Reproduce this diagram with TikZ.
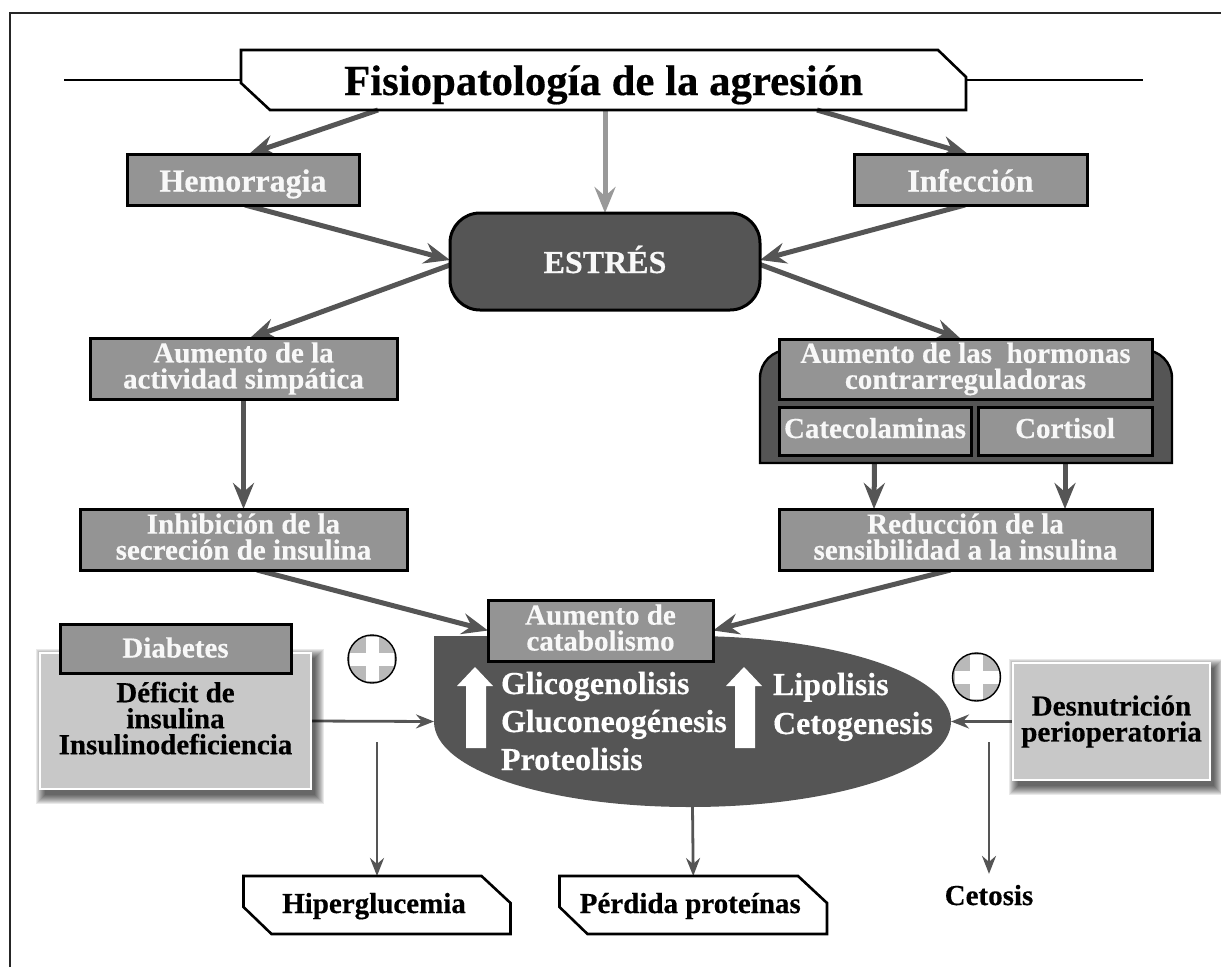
\documentclass[tikz,border=0pt]{standalone}
\usepackage{fontspec}
\setmainfont{Liberation Serif}[BoldFeatures={FakeBold=0.4}]
\usetikzlibrary{arrows.meta,backgrounds,calc}
\definecolor{boxgray}{HTML}{949494}
\definecolor{darkgray}{HTML}{555555}
\definecolor{lightgray}{HTML}{C8C8C8}
\definecolor{softwhite}{HTML}{F8F8F8}
\newcommand{\dd}{\rule[-6pt]{0pt}{6pt}}
\newcommand{\softshade}[4]{%
  \foreach \r in {9,8,7,6,5,4,3,2,1,0}{%
    \fill[black,opacity=.085] (#1+5-\r,#2+5-\r) rectangle (#3+4+\r,#4+6+\r);}}
\tikzset{
  base/.style={inner sep=0pt,outer sep=0pt,font=\bfseries\fontsize{29}{26}\selectfont,align=center},
  graybox/.style={base,draw=black,line width=3pt,fill=boxgray,text=softwhite},
  lightbox/.style={base,draw=white,line width=2.6pt,fill=lightgray,text=black},
  tagbox/.style={base,text=black},
  chamfer/.style={draw=black,line width=2.6pt,line join=miter},
  thick arrow/.style={draw=darkgray,line width=5pt,-{Stealth[length=26pt,width=21pt,inset=9pt]}},
  soft arrow/.style={thick arrow,draw=gray!80},
  thin arrow/.style={draw=darkgray,line width=2.8pt,-{Stealth[length=18pt,width=14pt,inset=6pt]}},
  plusmark/.style={circle,draw=black,line width=1.4pt,fill=gray!55,minimum size=48pt,inner sep=0pt,outer sep=0pt,
    path picture={
      \fill[white] ([xshift=-22pt,yshift=-6.5pt]path picture bounding box.center) rectangle ([xshift=22pt,yshift=6.5pt]path picture bounding box.center);
      \fill[white] ([xshift=-6.5pt,yshift=-22pt]path picture bounding box.center) rectangle ([xshift=6.5pt,yshift=22pt]path picture bounding box.center);
    }},
  listtext/.style={inner sep=0pt,outer sep=0pt,anchor=base west,text=white,font=\bfseries\fontsize{32}{32}\selectfont},
}
\begin{document}
\begin{tikzpicture}[x=1pt,y=-1pt]
\useasboundingbox (0,0) rectangle (1221,967);
% frame
\coordinate (fa) at (10,967); \coordinate (fb) at (10,13); \coordinate (fc) at (1221,13);
\draw[line width=1.6pt,draw=black!85] (fa) -- (fb) -- (fc);

% title
\node[tagbox,minimum width=725pt,minimum height=60pt,font=\bfseries\fontsize{42.8}{44}\selectfont,text depth=0pt,text height=30pt] (title) at (603.5,80) {Fisiopatología de la agresión};
\draw[chamfer] (title.north west) -- ([xshift=-28pt]title.north east) -- ([yshift=-27pt]title.north east) -- (title.south east) -- ([xshift=29pt]title.south west) -- ([yshift=27pt]title.south west) -- cycle;
\coordinate (tl) at (64,80); \coordinate (tr) at (1143,80);
\draw[line width=2.4pt] (tl) -- (title.west);
\draw[line width=2.4pt] (title.east) -- (tr);

\node[graybox,minimum width=232pt,minimum height=51pt,font=\bfseries\fontsize{32}{32}\selectfont,text height=24pt,text depth=0pt] (hemo) at (243,179.5) {Hemorragia};
\node[graybox,minimum width=233pt,minimum height=51pt,font=\bfseries\fontsize{32}{32}\selectfont,text height=24pt,text depth=0pt] (inf) at (970.5,179.5) {Infección};
\node[base,draw=black,line width=3pt,fill=darkgray,text=softwhite,rounded corners=30pt,minimum width=310pt,minimum height=97pt,font=\bfseries\fontsize{32}{32}\selectfont,text height=23pt,text depth=0pt] (estres) at (605,261.5) {ESTRÉS};

\node[graybox,minimum width=307pt,minimum height=61pt] (act) at (243.5,368.5) {Aumento de la\\actividad simpática\dd};
\node[graybox,minimum width=327pt,minimum height=61pt] (inh) at (243.5,539.5) {Inhibición de la\\secreción de insulina\dd};

% hormones group
\node[inner sep=0pt,outer sep=0pt,minimum width=412pt,minimum height=113pt] (grp) at (966,406.5) {};
\draw[draw=black,line width=2.4pt,fill=darkgray] (grp.south west) [rounded corners=28pt] -- (grp.north west) -- (grp.north east) [sharp corners] -- (grp.south east) -- cycle;
\node[graybox,minimum width=373pt,minimum height=60pt] (horm) at (965.5,369) {Aumento de las~~hormonas\\contrarreguladoras\dd};
\node[graybox,minimum width=192pt,minimum height=48pt,text height=20pt,text depth=6pt] (cate) at (875,431) {Catecolaminas};
\node[graybox,minimum width=174pt,minimum height=48pt,text height=20pt,text depth=6pt] (cort) at (1065,431) {Cortisol};
\node[graybox,minimum width=373pt,minimum height=61pt] (red) at (965.5,539.5) {Reducción de la\\sensibilidad a la insulina\dd};

% catabolism blob
\node[inner sep=0pt,outer sep=0pt,minimum width=517pt,minimum height=171pt] (blob) at (692.5,721.5) {};
\fill[darkgray] (690,636) .. controls (834,636) and (951,674.5) .. (951,721.5) .. controls (951,769.5) and (834,807) .. (690,807) .. controls (546,807) and (434,769.5) .. (434,721.5) -- (434,636) -- cycle;
\node[graybox,minimum width=225pt,minimum height=61pt] (catab) at (600.5,630.5) {Aumento de\\catabolismo\dd};
\foreach \ax in {0,269}{
  \fill[white] (466+\ax,748) -- (466+\ax,686) -- (457+\ax,686) -- (475+\ax,667) -- (493+\ax,686) -- (486+\ax,686) -- (486+\ax,748) -- cycle;
}
\node[listtext] (glic) at (501,694) {Glicogenolisis};
\node[listtext] (gluc) at (501,732) {Gluconeogénesis};
\node[listtext] (prot) at (501,770) {Proteolisis};
\node[listtext] (lipo) at (773,695) {Lipolisis};
\node[listtext] (ceto) at (773,734) {Cetogenesis};

% side boxes
\softshade{39.5}{653}{311}{789}
\node[lightbox,minimum width=271pt,minimum height=136pt] (light) at (175.5,721) {Déficit de\\insulina\\Insulinodeficiencia\dd};
\node[graybox,minimum width=231pt,minimum height=49pt,text height=18pt,text depth=0pt] (diab) at (175.5,648.5) {Diabetes};
\softshade{1013}{663}{1210}{780}
\node[lightbox,minimum width=197pt,minimum height=117pt] (desn) at (1111.5,721.5) {Desnutrición\\perioperatoria\dd};

\node[plusmark] (plusa) at (372,659) {};
\node[plusmark] (plusb) at (976.5,677) {};

% outcomes
\node[tagbox,minimum width=267pt,minimum height=58pt,text height=20pt,text depth=4pt] (hiper) at (377,905) {\hspace*{-6pt}Hiperglucemia};
\draw[chamfer] (hiper.north west) -- ([xshift=-29pt]hiper.north east) -- ([yshift=-27pt]hiper.north east) -- (hiper.south east) -- ([xshift=28pt]hiper.south west) -- ([yshift=27pt]hiper.south west) -- cycle;
\node[tagbox,minimum width=267.5pt,minimum height=58pt,text height=20pt,text depth=4pt] (perd) at (693.25,905) {\hspace*{-6pt}Pérdida proteínas};
\draw[chamfer] (perd.north west) -- ([xshift=-29pt]perd.north east) -- ([yshift=-27pt]perd.north east) -- (perd.south east) -- ([xshift=28pt]perd.south west) -- ([yshift=27pt]perd.south west) -- cycle;
\node[tagbox,inner sep=11pt,anchor=base] (ceto2) at (989,905) {Cetosis};

\coordinate (hstart) at (377,742);
\coordinate (cstart) at (989,742);

% connectors
\begin{scope}[on background layer]
\draw[thick arrow] ([xshift=-225.5pt]title.south) -- ([xshift=6pt]hemo.north);
\draw[soft arrow] ([xshift=1.5pt]title.south) -- (estres.north);
\draw[thick arrow] ([xshift=213.5pt]title.south) -- ([xshift=-2.5pt]inf.north);
\draw[thick arrow] ([xshift=2pt]hemo.south) -- ([yshift=1.5pt]estres.west);
\draw[thick arrow] ([xshift=-5.5pt]inf.south) -- ([yshift=1.5pt]estres.east);
\draw[thick arrow] ([yshift=-3.5pt]estres.west) -- ([xshift=6.5pt]act.north);
\draw[thick arrow] ([yshift=-3pt]estres.east) -- ([xshift=-4.5pt]horm.north);
\draw[thick arrow] (act.south) -- (inh.north);
\draw[thick arrow] ([xshift=-91.5pt]grp.south) -- ([xshift=-91.5pt]red.north);
\draw[thick arrow] ([xshift=99pt]grp.south) -- ([xshift=99.5pt]red.north);
\draw[thick arrow] ([xshift=13.5pt]inh.south) -- (catab.west);
\draw[thick arrow] ([xshift=-15pt]red.south) -- (catab.east);
\draw[thin arrow] (light.east) -- (blob.west);
\draw[thin arrow] (desn.west) -- (blob.east);
\draw[thin arrow] (blob.south) -- (perd.north);
\draw[thin arrow] (hstart) -- (hiper.north);
\draw[thin arrow] (cstart) -- (ceto2.north);
\end{scope}
\end{tikzpicture}
\end{document}
